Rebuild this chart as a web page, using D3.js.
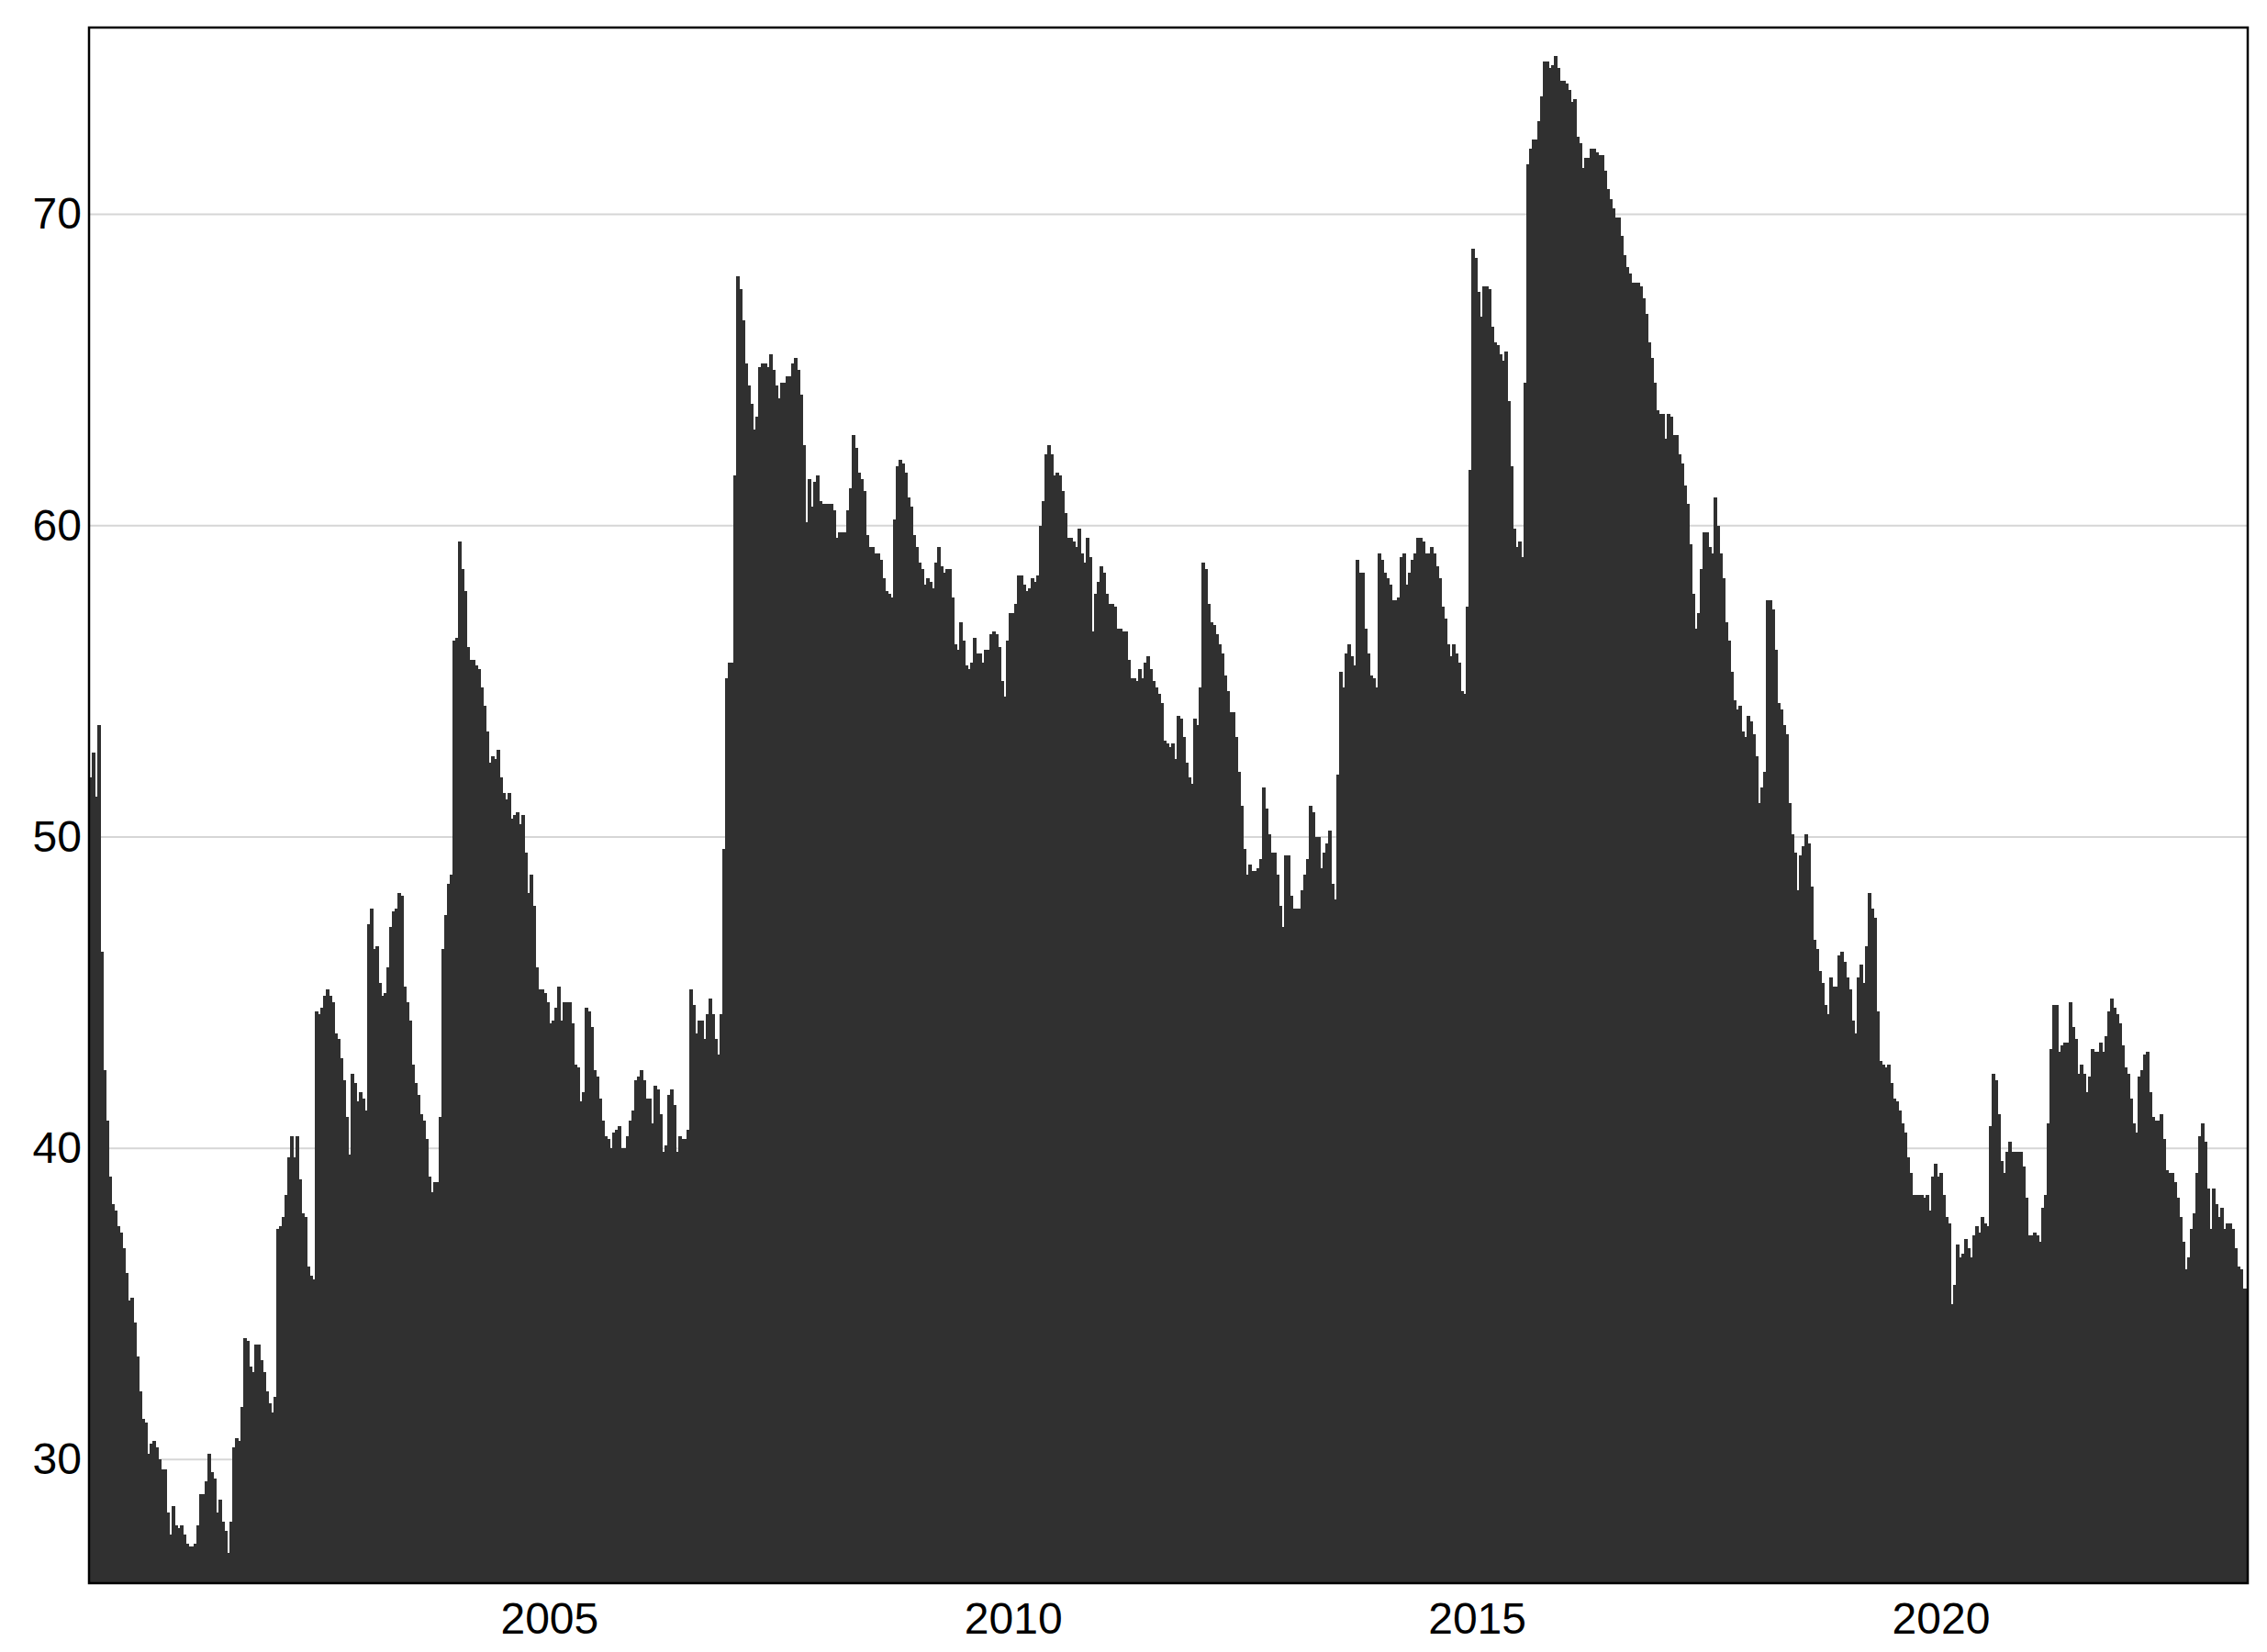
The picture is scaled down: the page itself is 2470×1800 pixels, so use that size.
<!DOCTYPE html>
<html>
<head>
<meta charset="utf-8">
<script src="https://cdn.jsdelivr.net/npm/d3@7"></script>
<style>
  html, body { margin: 0; padding: 0; background: #ffffff; }
  svg { display: block; }
  .tick text { font-family: "Liberation Sans", Arial, sans-serif; fill: #000; }
</style>
</head>
<body>
<svg id="chart" width="2470" height="1800"></svg>
<script>
// ---- data (in chronological order) ----
const values2000to2003 = [
  51.9, 52.7, 51.3, 53.6, 46.3, 42.5, 40.9, 39.1, 38.2, 38.0,
  37.5, 37.3, 36.8, 36.0, 35.1, 35.2, 34.4, 33.3, 32.2, 31.3,
  31.2, 30.2, 30.5, 30.6, 30.4, 30.0, 29.7, 29.7, 28.3, 27.6,
  28.5, 27.9, 27.8, 27.9, 27.6, 27.3, 27.2, 27.2, 27.3, 27.9,
  28.9, 28.9, 29.3, 30.2, 29.6, 29.4, 28.3, 28.7, 28.0, 27.7,
  27.0, 28.0, 30.4, 30.7, 30.6, 31.7, 33.9, 33.8, 33.0, 32.8,
  33.7, 33.7, 33.2, 32.8, 32.2, 31.8, 31.5, 32.0, 37.4, 37.5,
  37.8, 38.5, 39.7, 40.4, 39.7, 40.4, 39.0, 37.9, 37.8, 36.2,
  35.9, 35.8, 44.4, 44.3, 44.5, 44.9, 45.1, 44.9, 44.7, 43.7,
  43.5, 42.9, 42.2, 41.0, 39.8, 42.4, 42.1, 41.5, 41.8, 41.6,
  41.2, 47.2, 47.7, 46.4, 46.5, 45.3, 44.9, 45.0, 45.8, 47.1,
  47.6, 47.7, 48.2, 48.1, 45.2, 44.7, 44.1, 42.7, 42.1, 41.7,
  41.1, 40.9, 40.3, 39.1, 38.6, 38.9, 38.9, 41.0, 46.4, 47.5,
  48.5, 48.8, 56.3, 56.4
];
const values2004to2007 = [
  59.5, 58.6, 57.9, 56.1, 55.7, 55.7, 55.5, 55.4, 54.8, 54.2,
  53.4, 52.4, 52.6, 52.5, 52.8, 51.9, 51.4, 51.2, 51.4, 50.6,
  50.7, 50.8, 50.4, 50.7, 49.5, 48.2, 48.8, 47.8, 45.8, 45.1,
  45.1, 45.0, 44.7, 44.0, 44.1, 44.5, 45.2, 44.1, 44.7, 44.7,
  44.7, 44.0, 42.7, 42.6, 41.5, 41.8, 44.5, 44.4, 43.9, 42.5,
  42.3, 41.6, 40.9, 40.4, 40.3, 40.0, 40.5, 40.6, 40.7, 40.0,
  40.0, 40.4, 40.9, 41.2, 42.2, 42.3, 42.5, 42.2, 41.6, 41.6,
  40.8, 42.0, 41.9, 41.1, 39.9, 40.1, 41.7, 41.9, 41.4, 39.9,
  40.4, 40.3, 40.3, 40.6, 45.1, 44.6, 43.7, 44.1, 44.1, 43.5,
  44.3, 44.8, 44.3, 43.5, 43.0, 44.3, 49.6, 55.1, 55.6, 55.6,
  61.6, 68.0, 67.6, 66.6, 65.2, 64.5, 63.9, 63.1, 63.5, 65.1,
  65.2, 65.2, 65.1, 65.5, 65.0, 64.5, 64.1, 64.6, 64.6, 64.8,
  64.8, 65.2, 65.4, 65.0, 64.2, 62.6, 60.1
];
const values2007to2012 = [
  61.5, 60.6, 61.4, 61.6, 60.8, 60.7, 60.7, 60.7, 60.7, 60.5,
  59.6, 59.8, 59.8, 59.8, 60.5, 61.2, 62.9, 62.5, 61.7, 61.5,
  61.1, 59.7, 59.3, 59.3, 59.1, 59.1, 58.9, 58.3, 57.9, 57.8,
  57.7, 60.2, 61.9, 62.1, 62.0, 61.7, 60.9, 60.6, 59.7, 59.3,
  58.8, 58.6, 58.1, 58.3, 58.2, 58.0, 58.8, 59.3, 58.7, 58.5,
  58.6, 58.6, 57.7, 56.2, 56.0, 56.9, 56.3, 55.5, 55.4, 55.6,
  56.4, 55.9, 55.9, 55.6, 56.0, 56.0, 56.5, 56.6, 56.5, 56.1,
  55.0, 54.5, 56.3, 57.2, 57.2, 57.5, 58.4, 58.4, 58.1, 57.9,
  58.0, 58.3, 58.2, 58.4, 60.0, 60.8, 62.3, 62.6, 62.3, 61.6,
  61.7, 61.6, 61.1, 60.4, 59.6, 59.6, 59.5, 59.3, 59.9, 59.1,
  58.8, 59.6, 59.0, 56.6, 57.8, 58.2, 58.7, 58.5, 57.8, 57.5,
  57.5, 57.4, 56.7, 56.7, 56.6, 56.6, 55.7, 55.1, 55.1, 55.0,
  55.4, 55.1, 55.6, 55.8, 55.4, 55.0, 54.8, 54.6, 54.3, 53.1,
  53.0, 52.9, 53.0, 52.5, 53.9, 53.8, 53.2, 52.4, 51.9, 51.7,
  53.8, 53.6, 54.8, 58.8, 58.6, 57.5, 56.9, 56.8, 56.5, 56.2,
  55.9, 55.2, 54.7, 54.0, 54.0, 53.2, 52.1, 51.0, 49.6, 48.8
];
const values2012to2016 = [
  49.1, 48.9, 48.9, 49.0, 49.3, 51.6, 50.9, 50.1, 49.5, 49.5,
  48.8, 47.8, 47.1, 49.4, 49.4, 48.1, 47.7, 47.7, 47.7, 48.3,
  48.8, 49.3, 51.0, 50.8, 50.0, 50.0, 49.0, 49.5, 49.8, 50.2,
  48.5, 48.0, 52.0, 55.3, 54.8, 55.9, 56.2, 55.8, 55.5, 58.9,
  58.5, 58.5, 56.7, 55.9, 55.2, 55.1, 54.8, 59.1, 58.9, 58.5,
  58.3, 58.1, 57.6, 57.6, 57.7, 59.0, 59.1, 58.1, 58.5, 58.9,
  59.1, 59.6, 59.6, 59.5, 59.1, 59.1, 59.3, 59.1, 58.7, 58.3,
  57.4, 57.0, 56.2, 55.8, 56.2, 55.9, 55.6, 54.7, 54.6, 57.4,
  61.8, 68.9, 68.6, 67.5, 66.7, 67.7, 67.7, 67.6, 66.4, 65.9,
  65.8, 65.5, 65.3, 65.6, 64.0, 61.9, 59.9, 59.3, 59.5, 59.0,
  64.6, 71.6, 72.1, 72.4, 72.4, 73.0, 73.8, 74.9, 74.9, 74.7,
  74.8, 75.1, 74.7, 74.3, 74.3, 74.2, 74.0, 73.6, 73.7, 72.5,
  72.3, 71.5, 71.8, 71.8, 72.1, 72.1, 72.0, 71.9, 71.9, 71.4,
  70.8, 70.5, 70.2, 69.9, 69.9, 69.3, 68.7, 68.3, 68.1, 67.8,
  67.8, 67.8, 67.7, 67.3, 66.8, 65.9, 65.4
];
const values2016to2019 = [
  64.6, 63.7, 63.6, 63.6, 62.8, 63.6, 63.5, 62.9, 62.9, 62.3,
  62.0, 61.3, 60.7, 59.4, 57.8, 56.7, 57.2, 58.6, 59.8, 59.8,
  59.3, 59.1, 60.9, 60.0, 59.1, 58.3, 56.9, 56.3, 55.3, 54.4,
  54.1, 54.2, 53.4, 53.2, 53.9, 53.7, 53.3, 52.6, 51.1, 51.6,
  52.1, 57.6, 57.6, 57.3, 56.0, 54.3, 54.1, 53.6, 53.3, 51.1,
  50.1, 49.5, 48.3, 49.4, 49.7, 50.1, 49.8, 48.4, 46.7, 46.4,
  45.7, 45.3, 44.6, 44.3, 45.5, 45.2, 45.2, 46.2, 46.3, 46.0,
  45.5, 45.1, 44.1, 43.7, 45.5, 45.9, 45.3, 46.5, 48.2, 47.7,
  47.4, 44.4, 42.8, 42.7, 42.6, 42.7, 42.1, 41.6, 41.5, 41.2,
  40.8, 40.5, 39.7, 39.2, 38.5, 38.5, 38.5, 38.5, 38.4, 38.5,
  38.0, 39.1, 39.5, 39.1, 39.2
];
const values2019to2023 = [
  38.5, 37.8, 37.6, 35.0, 35.6, 36.9, 36.5, 36.6, 37.1, 36.8,
  36.5, 37.2, 37.5, 37.3, 37.8, 37.6, 37.5, 40.7, 42.4, 42.2,
  41.1, 39.6, 39.2, 39.9, 40.2, 39.9, 39.9, 39.9, 39.9, 39.4,
  38.4, 37.2, 37.2, 37.3, 37.2, 37.0, 38.1, 38.5, 40.8, 43.2,
  44.6, 44.6, 43.1, 43.3, 43.4, 43.4, 44.7, 43.9, 43.5, 42.4,
  42.7, 42.4, 41.8, 42.3, 43.2, 43.1, 43.1, 43.4, 43.1, 43.6,
  44.4, 44.8, 44.5, 44.3, 44.0, 43.3, 42.6, 42.4, 41.6, 40.8,
  40.5, 42.3, 42.5, 43.0, 43.1, 41.8, 41.0, 40.9, 40.9, 41.1,
  40.3, 39.3, 39.2, 39.2, 38.9, 38.4, 37.8, 37.0, 36.1, 36.5,
  37.4, 37.9, 39.2, 40.4, 40.8, 40.2, 38.7, 37.4, 38.7, 38.2,
  37.8, 38.1, 37.4, 37.6, 37.6, 37.4, 36.8, 36.2, 36.1, 35.5,
  35.5
];

// time span covered by the series (decimal years) and axis ticks
const timeSpan = [2000.04, 2023.31];
const xTickValues = [2005, 2010, 2015, 2020];
const yTickValues = [30, 40, 50, 60, 70];
const yDomain = [26.03, 76.0];

// ---- build ----
const series = [].concat(values2000to2003, values2004to2007, values2007to2012,
                         values2012to2016, values2016to2019, values2019to2023);
const n = series.length;
const stepYears = (timeSpan[1] - timeSpan[0]) / n;
const data = series.map((v, i) => ({ t0: timeSpan[0] + i * stepYears,
                                      t1: timeSpan[0] + (i + 1) * stepYears,
                                      v }));

const W = 2470, H = 1800;
const panel = { left: 97, right: 2449, top: 30, bottom: 1725 };

const x = d3.scaleLinear().domain(timeSpan).range([panel.left, panel.right]);
const y = d3.scaleLinear().domain(yDomain).range([panel.bottom, panel.top]);

const svg = d3.select("#chart");

svg.append("defs").append("clipPath").attr("id", "clip")
  .append("rect")
  .attr("x", panel.left).attr("y", panel.top)
  .attr("width", panel.right - panel.left).attr("height", panel.bottom - panel.top);

// gridlines
svg.append("g")
  .selectAll("line")
  .data(yTickValues)
  .join("line")
  .attr("x1", panel.left).attr("x2", panel.right)
  .attr("y1", d => y(d)).attr("y2", d => y(d))
  .attr("stroke", "#d6d6d6")
  .attr("stroke-width", 2);

// bars
svg.append("g")
  .attr("clip-path", "url(#clip)")
  .attr("shape-rendering", "crispEdges")
  .selectAll("rect")
  .data(data)
  .join("rect")
  .attr("x", d => x(d.t0))
  .attr("width", d => x(d.t1) - x(d.t0) + 0.5)
  .attr("y", d => y(d.v))
  .attr("height", d => panel.bottom - y(d.v))
  .attr("fill", "#303030");

// axes
const xAxis = d3.axisBottom(x)
  .tickValues(xTickValues)
  .tickFormat(d3.format("d"))
  .tickSize(0)
  .tickPadding(21);
const gx = svg.append("g")
  .attr("transform", `translate(0,${panel.bottom})`)
  .call(xAxis);
gx.select(".domain").remove();
gx.selectAll("text").style("font-size", "48px");

const yAxis = d3.axisLeft(y)
  .tickValues(yTickValues)
  .tickFormat(d3.format("d"))
  .tickSize(0)
  .tickPadding(8);
const gy = svg.append("g")
  .attr("transform", `translate(${panel.left},0)`)
  .call(yAxis);
gy.select(".domain").remove();
gy.selectAll("text").style("font-size", "48px");

// panel border
svg.append("rect")
  .attr("x", panel.left).attr("y", panel.top)
  .attr("width", panel.right - panel.left)
  .attr("height", panel.bottom - panel.top)
  .attr("fill", "none")
  .attr("stroke", "#000")
  .attr("stroke-width", 2.5);
</script>
</body>
</html>
